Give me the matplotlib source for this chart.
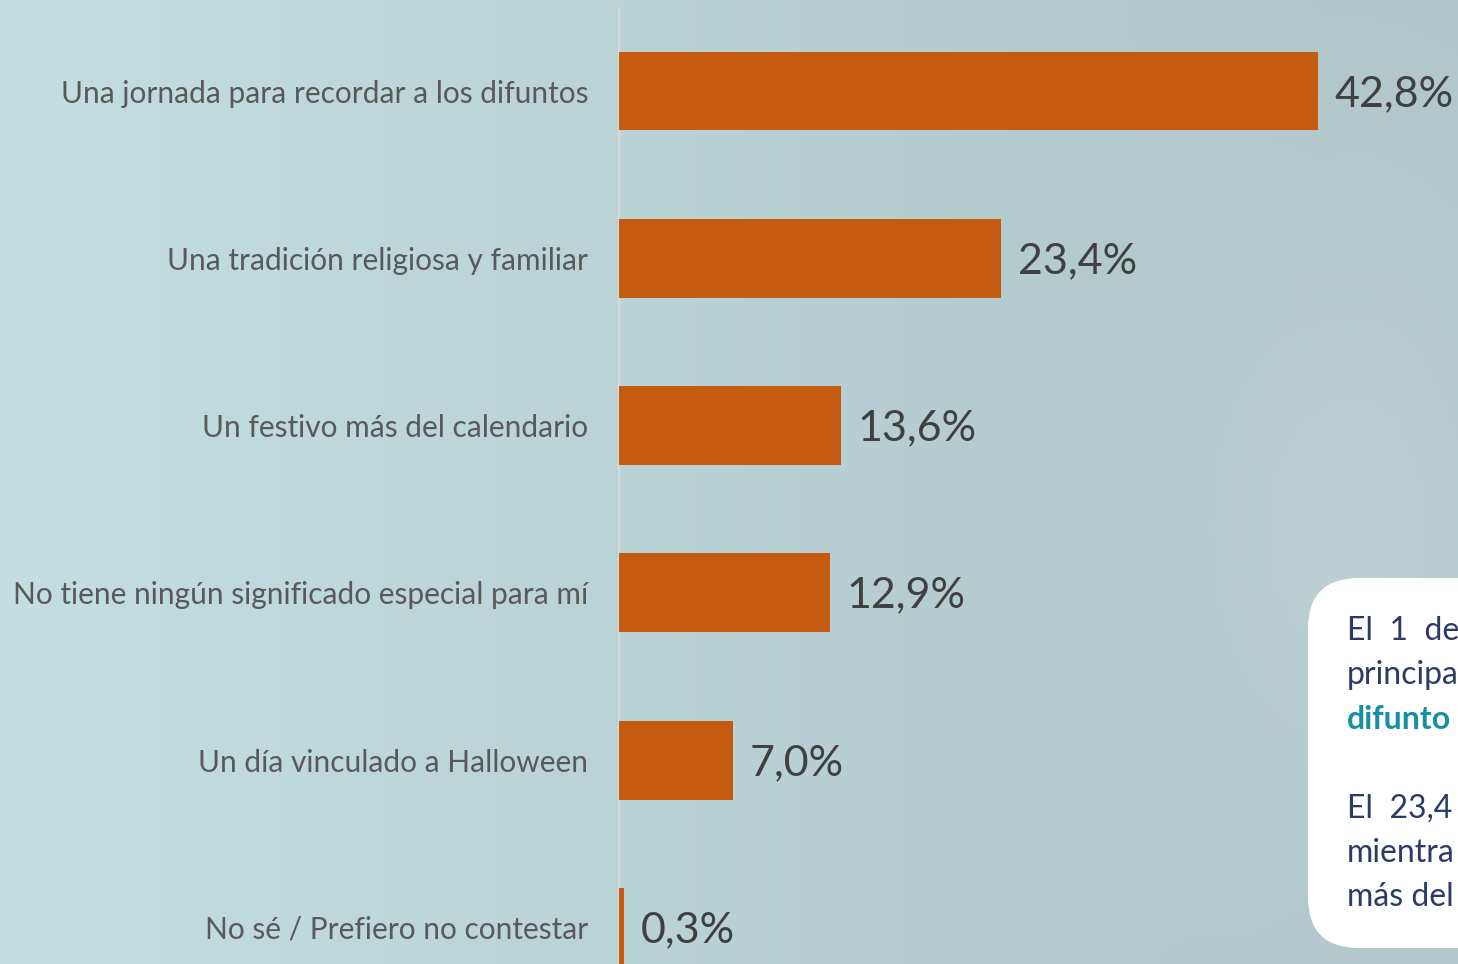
import numpy as np
import matplotlib
matplotlib.use("Agg")
import matplotlib.pyplot as plt
from matplotlib.patches import FancyBboxPatch

categories = [
    "Una jornada para recordar a los difuntos",
    "Una tradición religiosa y familiar",
    "Un festivo más del calendario",
    "No tiene ningún significado especial para mí",
    "Un día vinculado a Halloween",
    "No sé / Prefiero no contestar",
]
values = [42.8, 23.4, 13.6, 12.9, 7.0, 0.3]
value_labels = ["42,8%", "23,4%", "13,6%", "12,9%", "7,0%", "0,3%"]

# note text as visible in the reference (cut at the right edge)
note_lines = [
    ("El  1  de", False),
    ("principa", False),
    ("difunto", True),
    ("", False),
    ("El  23,4", False),
    ("mientra", False),
    ("más del", False),
]

FONT = "Lato"
W, H = 1458, 964
fig = plt.figure(figsize=(W / 100, H / 100), dpi=100)

# background gradient
bg = fig.add_axes([0, 0, 1, 1])
bg.set_axis_off()
xs = np.linspace(0, 1, 300)
ys = np.linspace(0, 1, 200)
X, Y = np.meshgrid(xs, ys)
left = np.array([0xc3, 0xdf, 0xe1]) / 255
right = np.array([0xb0, 0xc6, 0xc9]) / 255
t = np.clip(X * 1.1, 0, 1)[..., None]
img = left * (1 - t) + right * t
d = np.exp(-(((X - 0.93) / 0.12) ** 2 + ((Y - 0.55) / 0.35) ** 2))[..., None]
img = img * (1 - 0.5 * d) + np.array([0xc9, 0xdb, 0xdf]) / 255 * 0.5 * d
bg.imshow(img, aspect="auto", extent=[0, 1, 0, 1], origin="upper")
bg.set_xlim(0, 1)
bg.set_ylim(0, 1)

# main axes
px_per_unit_x = 16.33
ax_left = 619
ax_top = 8
ax_w = W - ax_left
ax_h = H - ax_top
ax = fig.add_axes([ax_left / W, 0, ax_w / W, ax_h / H])
ax.patch.set_alpha(0)
ypos = np.arange(len(categories))
ax.barh(ypos, values, height=0.472, color="#C55A11", zorder=3)
ax.set_xlim(0, ax_w / px_per_unit_x)
row_px = 167.3
top_units = 83 / row_px
ax.set_ylim(-top_units + ax_h / row_px, -top_units)
for s in ["top", "right", "bottom"]:
    ax.spines[s].set_visible(False)
ax.spines["left"].set_color("#d9d9d9")
ax.spines["left"].set_linewidth(1.6)
ax.set_xticks([])
ax.set_yticks(ypos)
ax.set_yticklabels(categories, fontsize=21.5, color="#595959", family=FONT)
ax.tick_params(axis="y", length=0, pad=22)

for y, v, lab in zip(ypos, values, value_labels):
    ax.annotate(lab, xy=(v, y), xytext=(12, -2), textcoords="offset points",
                va="center", ha="left", fontsize=31, color="#404040", family=FONT,
                annotation_clip=False)

# note box
box = FancyBboxPatch((1308 / W, (H - 948) / H), 300 / W, 370 / H,
                     boxstyle="round,pad=0,rounding_size=0.035",
                     transform=fig.transFigure, facecolor="white",
                     edgecolor="none", mutation_aspect=W / H, zorder=5)
fig.add_artist(box)
y0 = 631
for i, (line, bold) in enumerate(note_lines):
    if not line:
        continue
    fig.text(1347 / W, 1 - (y0 + i * 44.3) / H, line, fontsize=23,
             family=FONT, fontweight="bold" if bold else "normal",
             color="#1590a3" if bold else "#2b3a67", va="center", ha="left",
             zorder=6)

fig.savefig("out.png", dpi=100)
